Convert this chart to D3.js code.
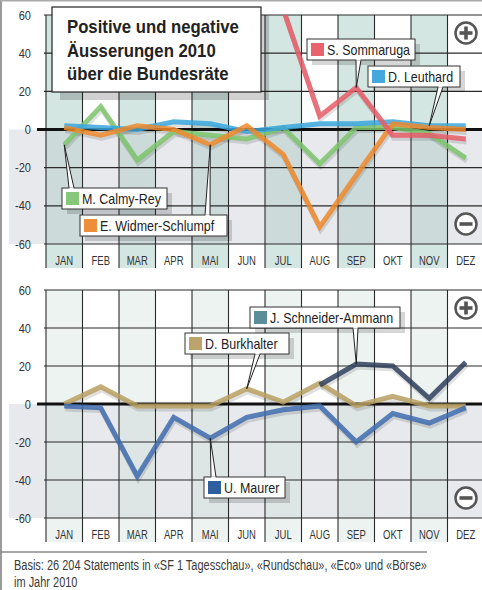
<!DOCTYPE html>
<html>
<head>
<meta charset="utf-8">
<script src="https://cdn.jsdelivr.net/npm/d3@7"></script>
<style>
  body { margin: 0; background: #fff; }
  svg { display: block; font-family: "Liberation Sans", Arial, sans-serif; }
</style>
</head>
<body>
<div id="chart"></div>
<script>
// data
let months = ["JAN", "FEB", "MAR", "APR", "MAI", "JUN", "JUL", "AUG", "SEP", "OKT", "NOV", "DEZ"];
let yTicks = [60, 40, 20, 0, -20, -40, -60];

// top panel
let calmyRey = [-8, 12, -16, -1, -3, -5, 1, -18, 1, 1, -2, -15];
let leuthard = [2, 1, 0, 4, 3, -1, 1, 3, 3, 4, 2, 2];
let widmerSchlumpf = [1, -3, 2, 0, -8, 2, -13, -51, -24, 3, 1, 0];
let sommaruga = [null, null, null, null, null, null, 63, 7, 22, -3, -3, -5];

// bottom panel
let burkhalter = [0, 9, -1, -1, -1, 8, 1, 11, -1, 4, -1, -1];
let maurer = [-1, -2, -38, -7, -18, -7, -3, -1, -20, -5, -10, -2];
let schneiderAmmann = [null, null, null, null, null, null, null, 10, 21, 20, 3, 22];

let titleLines = ["Positive und negative", "Äusserungen 2010", "über die Bundesräte"];
let footLines = ["Basis: 26 204 Statements in «SF 1 Tagesschau», «Rundschau», «Eco» und «Börse»", "im Jahr 2010"];

let width = 482, height = 590;

let svg = d3.select("#chart")
    .append("svg")
    .attr("width", width)
    .attr("height", height);

// squeeze text horizontally to fake a condensed face
function narrow(sel, f) {
    sel.each(function () {
        let w = this.getComputedTextLength();
        d3.select(this)
            .attr("textLength", w * f)
            .attr("lengthAdjust", "spacingAndGlyphs");
    });
}

let x = d3.scaleBand()
    .domain(months)
    .range([46, 484]);

// panel settings (layout only)
let panels = [
    {
        top: 15, bottom: 244, teal: "#d4e6e1", tealNeg: "#ccdbda",
        series: [
            { name: "M. Calmy-Rey", values: calmyRey, color: "#7cc46c", swatch: "#86c77a" },
            { name: "D. Leuthard", values: leuthard, color: "#3aa6dc", swatch: "#44a8dc" },
            { name: "E. Widmer-Schlumpf", values: widmerSchlumpf, color: "#ee8a2c", swatch: "#ef8e3a" },
            { name: "S. Sommaruga", values: sommaruga, color: "#e85c67", swatch: "#e8636d" }
        ],
        callouts: [
            { series: "S. Sommaruga", month: "SEP", bx: 307, by: 39, bw: 108, tail: 358, up: false },
            { series: "D. Leuthard", month: "NOV", bx: 368, by: 66, bw: 92, tail: 440, up: false },
            { series: "M. Calmy-Rey", month: "JAN", bx: 62, by: 188, bw: 105, tail: 71, up: true },
            { series: "E. Widmer-Schlumpf", month: "MAI", bx: 80, by: 215, bw: 147, tail: 207, up: true }
        ]
    },
    {
        top: 290, bottom: 518, teal: "#edf3f1", tealNeg: "#dee5e5",
        series: [
            { name: "D. Burkhalter", values: burkhalter, color: "#b8a062", swatch: "#bba46c" },
            { name: "U. Maurer", values: maurer, color: "#3f6cae", swatch: "#2f5e9e" },
            { name: "J. Schneider-Ammann", values: schneiderAmmann, color: "#2f3f5e", swatch: "#5a8f9a" }
        ],
        callouts: [
            { series: "J. Schneider-Ammann", month: "SEP", bx: 250, by: 307, bw: 150, tail: 355, up: false },
            { series: "D. Burkhalter", month: "JUN", bx: 185, by: 333, bw: 104, tail: 257, up: false },
            { series: "U. Maurer", month: "MAI", bx: 204, by: 477, bw: 81, tail: 213, up: true }
        ]
    }
];

// outer frame
svg.append("line").attr("x1", 1).attr("x2", 1).attr("y1", 0).attr("y2", height)
    .attr("stroke", "#9a9a9a").attr("stroke-width", 2);
svg.append("line").attr("x1", 0).attr("x2", width).attr("y1", 0.75).attr("y2", 0.75)
    .attr("stroke", "#aaa").attr("stroke-width", 1.5);

panels.forEach(function (p, pi) {
    let y = d3.scaleLinear()
        .domain([-60, 60])
        .range([p.bottom, p.top]);
    let labelBottom = p.bottom + 24;
    let g = svg.append("g");

    // negative area
    g.append("rect")
        .attr("x", 9).attr("y", y(0))
        .attr("width", 484 - 9).attr("height", y(-60) - y(0))
        .attr("fill", "#e8e9ec");

    // shaded months
    let shaded = months.filter(function (d, i) { return i % 2 === 0; });
    g.selectAll(".teal")
        .data(shaded)
        .enter()
        .append("rect")
        .attr("x", function (d) { return x(d); })
        .attr("y", p.top)
        .attr("width", x.bandwidth())
        .attr("height", y(0) - p.top)
        .attr("fill", p.teal);
    g.selectAll(".tealNeg")
        .data(shaded)
        .enter()
        .append("rect")
        .attr("x", function (d) { return x(d); })
        .attr("y", y(0))
        .attr("width", x.bandwidth())
        .attr("height", y(-60) - y(0))
        .attr("fill", p.tealNeg);
    g.selectAll(".tealLabel")
        .data(shaded)
        .enter()
        .append("rect")
        .attr("x", function (d) { return x(d); })
        .attr("y", y(-60))
        .attr("width", x.bandwidth())
        .attr("height", labelBottom - y(-60))
        .attr("fill", p.teal);

    // horizontal grid
    g.selectAll(".hgrid")
        .data(yTicks.filter(function (d) { return d !== 0; }))
        .enter()
        .append("line")
        .attr("x1", 44).attr("x2", 484)
        .attr("y1", function (d) { return y(d); })
        .attr("y2", function (d) { return y(d); })
        .attr("stroke", "#2a2a2a")
        .attr("stroke-width", 1.1);

    // vertical grid
    let edges = months.map(function (d) { return x(d); }).concat([484]);
    g.selectAll(".vgrid")
        .data(edges)
        .enter()
        .append("line")
        .attr("x1", function (d) { return d; })
        .attr("x2", function (d) { return d; })
        .attr("y1", p.top)
        .attr("y2", labelBottom)
        .attr("stroke", "#2a2a2a")
        .attr("stroke-width", 1.1);

    // zero line
    g.append("line")
        .attr("x1", 37).attr("x2", 484)
        .attr("y1", y(0)).attr("y2", y(0))
        .attr("stroke", "#111")
        .attr("stroke-width", 3);

    // y labels
    let ylab = g.selectAll(".ylab")
        .data(yTicks)
        .enter()
        .append("text")
        .attr("x", 31)
        .attr("y", function (d) { return y(d); })
        .attr("dy", "0.35em")
        .attr("text-anchor", "end")
        .attr("font-size", 13)
        .attr("fill", "#333")
        .text(function (d) { return d; });
    narrow(ylab, 0.85);

    // month labels
    let mlab = g.selectAll(".mlab")
        .data(months)
        .enter()
        .append("text")
        .attr("x", function (d) { return x(d) + x.bandwidth() / 2; })
        .attr("y", y(-60) + 21)
        .attr("text-anchor", "middle")
        .attr("font-size", 13.5)
        .attr("fill", "#333")
        .text(function (d) { return d; });
    narrow(mlab, 0.7);

    // clip for the lines
    g.append("clipPath")
        .attr("id", "clip" + pi)
        .append("rect")
        .attr("x", 46).attr("y", p.top)
        .attr("width", 438).attr("height", p.bottom - p.top);

    let line = d3.line()
        .defined(function (d) { return d !== null; })
        .x(function (d, i) { return x(months[i]) + x.bandwidth() / 2; })
        .y(function (d) { return y(d); });

    let lines = g.append("g").attr("clip-path", "url(#clip" + pi + ")");

    // shadows
    lines.selectAll(".shadow")
        .data(p.series)
        .enter()
        .append("path")
        .attr("d", function (d) { return line(d.values); })
        .attr("transform", "translate(1,3)")
        .attr("fill", "none")
        .attr("stroke", "#000")
        .attr("stroke-opacity", 0.12)
        .attr("stroke-width", 5)
        .attr("stroke-linejoin", "miter");

    lines.selectAll(".series")
        .data(p.series)
        .enter()
        .append("path")
        .attr("d", function (d) { return line(d.values); })
        .attr("fill", "none")
        .attr("stroke", function (d) { return d.color; })
        .attr("stroke-opacity", 0.85)
        .attr("stroke-width", 5)
        .attr("stroke-linejoin", "miter");

    // callouts
    let boxH = 21;
    p.callouts.forEach(function (c) {
        let s = p.series.find(function (d) { return d.name === c.series; });
        let mi = months.indexOf(c.month);
        let tx = x(c.month) + x.bandwidth() / 2;
        let ty = y(s.values[mi]);
        let baseY = c.up ? c.by : c.by + boxH;
        let cg = svg.append("g");

        // shadow
        cg.append("rect")
            .attr("x", c.bx + 5).attr("y", c.by + 5)
            .attr("width", c.bw).attr("height", boxH)
            .attr("fill", "#000").attr("fill-opacity", 0.16);
        // tail
        cg.append("path")
            .attr("d", "M" + (c.tail - 2) + "," + baseY + "L" + tx + "," + ty + "L" + (c.tail + 3) + "," + baseY)
            .attr("fill", "#fff")
            .attr("stroke", "#222")
            .attr("stroke-width", 1);
        cg.append("rect")
            .attr("x", c.bx).attr("y", c.by)
            .attr("width", c.bw).attr("height", boxH)
            .attr("fill", "#fff")
            .attr("stroke", "#333")
            .attr("stroke-width", 1);
        // cover tail joint
        cg.append("rect")
            .attr("x", c.tail - 1.5).attr("y", c.up ? c.by - 0.5 : c.by + boxH - 1.5)
            .attr("width", 4).attr("height", 2)
            .attr("fill", "#fff");
        cg.append("rect")
            .attr("x", c.bx + 4).attr("y", c.by + 4)
            .attr("width", 13).attr("height", 13)
            .attr("fill", s.swatch);
        let lab = cg.append("text")
            .attr("x", c.bx + 20).attr("y", c.by + 16)
            .attr("font-size", 15)
            .attr("fill", "#222")
            .text(s.name);
        narrow(lab, 0.83);
    });

    // plus / minus icons
    let icons = [{ sign: "+", cy: y(60) + 18 }, { sign: "-", cy: y(-60) - 20 }];
    icons.forEach(function (ic) {
        let ig = svg.append("g").attr("transform", "translate(466," + ic.cy + ")");
        ig.append("circle").attr("r", 10.5)
            .attr("fill", "#fff").attr("stroke", "#555").attr("stroke-width", 2.5);
        ig.append("rect").attr("x", -6.5).attr("y", -1.8).attr("width", 13).attr("height", 3.6).attr("fill", "#555");
        if (ic.sign === "+") {
            ig.append("rect").attr("x", -1.8).attr("y", -6.5).attr("width", 3.6).attr("height", 13).attr("fill", "#555");
        }
    });
});

// title box
let tg = svg.append("g");
tg.append("rect").attr("x", 60).attr("y", 15).attr("width", 209).attr("height", 85)
    .attr("fill", "#000").attr("fill-opacity", 0.18);
tg.append("rect").attr("x", 52).attr("y", 7).attr("width", 209).attr("height", 85)
    .attr("fill", "#fff").attr("stroke", "#222").attr("stroke-width", 1.2);
let title = tg.selectAll(".title")
    .data(titleLines)
    .enter()
    .append("text")
    .attr("x", 67)
    .attr("y", function (d, i) { return 33 + i * 23.5; })
    .attr("font-size", 19)
    .attr("font-weight", "bold")
    .attr("fill", "#222")
    .text(function (d) { return d; });
narrow(title, 0.88);

// footer (squeezed with a scale so it fits the 413px rule)
svg.append("line").attr("x1", 0).attr("x2", 427).attr("y1", 552).attr("y2", 552)
    .attr("stroke", "#888").attr("stroke-width", 1.5);
let fg = svg.append("g");
let foot = fg.selectAll(".foot")
    .data(footLines)
    .enter()
    .append("text")
    .attr("x", 0)
    .attr("y", function (d, i) { return 570 + i * 17; })
    .attr("font-size", 14)
    .attr("fill", "#3a3a3a")
    .text(function (d) { return d; });
let footW = foot.node().getComputedTextLength();
fg.attr("transform", "translate(14,0) scale(" + (413 / footW) + ",1)");
</script>
</body>
</html>
